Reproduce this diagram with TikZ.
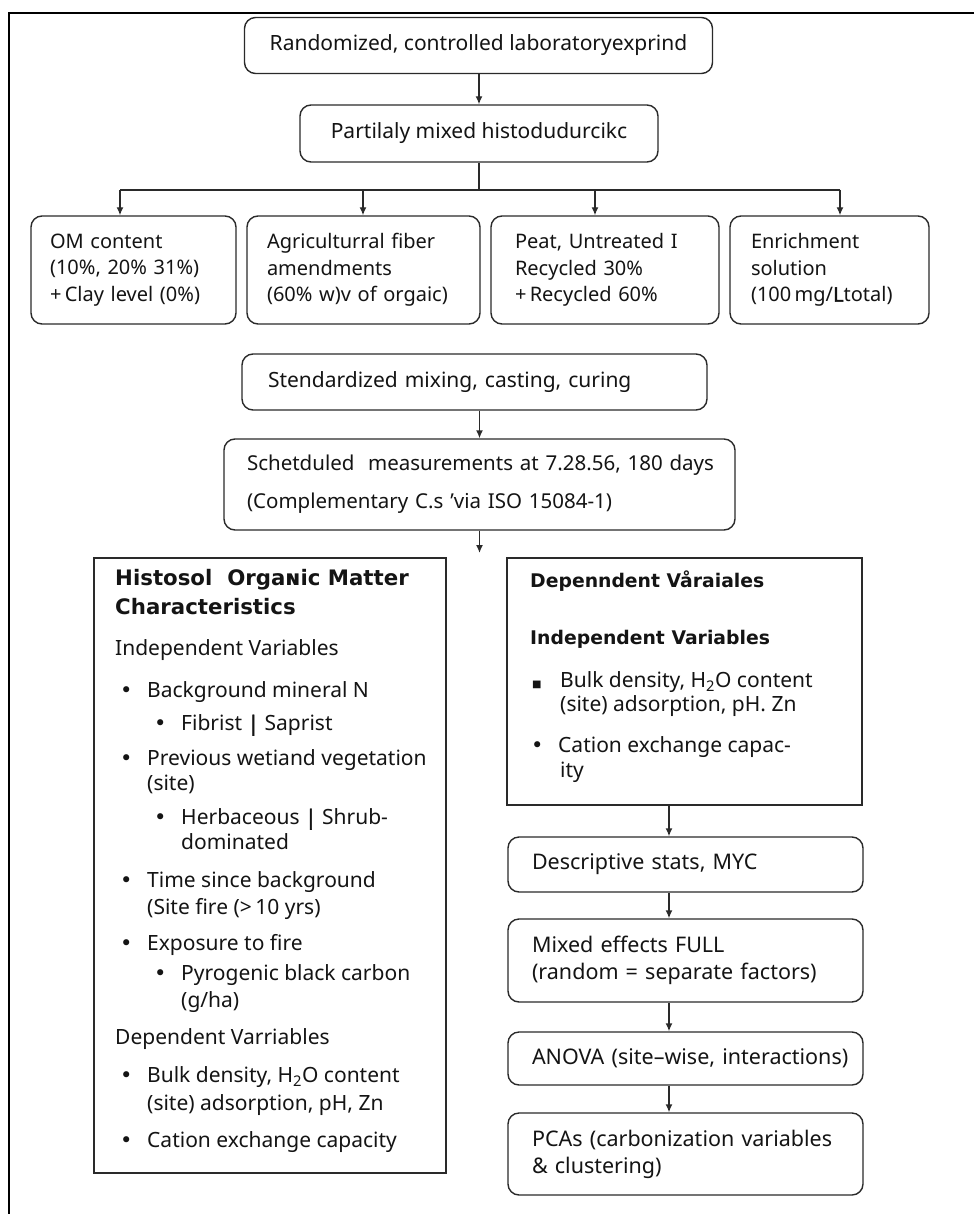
\documentclass[tikz,border=0pt]{standalone}
\usepackage{fontspec}
\setmainfont{Noto Sans}[AutoFakeBold=2.2]
\newfontfamily\symfont{DejaVu Sans}
\newfontfamily\headfont{DejaVu Sans}
\usetikzlibrary{arrows.meta}

\definecolor{ink}{HTML}{141414}
\definecolor{edge}{HTML}{2A2A2A}

% bullets with a fixed hanging width
\newcommand\bul{\makebox[27pt][l]{\symfont •}}
\newcommand\sqbul{\makebox[28pt][l]{\fontsize{10}{10}\symfont ■}}

\tikzset{
  every node/.style={text=ink},
  flowbox/.style={draw=edge, line width=1.4pt, rounded corners=11pt, fill=white, inner sep=0pt},
  panelbox/.style={draw=edge, line width=1.6pt, fill=white, inner sep=0pt},
  arr/.style={draw=edge, line width=1.4pt, -{Latex[length=8pt,width=7pt]}},
  link/.style={draw=edge, line width=1.4pt},
  bigtext/.style={font=\fontsize{21}{26}\selectfont},
  cardtext/.style={font=\fontsize{20}{26.5}\selectfont, align=left},
  schedtext/.style={font=\fontsize{20.5}{38}\selectfont, align=left},
  ptext/.style={font=\fontsize{21}{25}\selectfont, anchor=mid west, inner sep=0pt},
  ptitle/.style={font=\headfont\bfseries\fontsize{21.3}{25}\selectfont, anchor=mid west, inner sep=0pt},
  rtitle/.style={font=\headfont\bfseries\fontsize{18.8}{25}\selectfont, anchor=mid west, inner sep=0pt},
  steptext/.style={font=\fontsize{21.5}{27}\selectfont, align=left},
}

\begin{document}
\begin{tikzpicture}[x=1pt,y=-1pt]
\useasboundingbox (0,0) rectangle (974,1214);
\fill[white] (0,0) rectangle (974,1214);

% page frame (top and left rules)
\draw[line width=2.6pt, black] (974,13) -- (9,13) -- (9,1214);

% ---- upper flow ----
\node[flowbox, bigtext, minimum width=468pt, minimum height=56pt] (start) at (478.5,45.5)
  {Randomized, controlled laboratoryexprind};
\node[flowbox, bigtext, minimum width=358pt, minimum height=57pt] (mix) at (479,133.5)
  {Partilaly mixed histodudurcikc};
\draw[arr] (start.south -| mix.north) -- (mix.north);

% distribution bus
\coordinate (bus) at (479,190);
\coordinate (jA) at (120,190);
\coordinate (jB) at (363,190);
\coordinate (jC) at (595,190);
\coordinate (jD) at (840,190);
\draw[link] (mix.south) -- (bus);
\draw[link] (jA) -- (jD);

% four treatment cards
\node[flowbox, cardtext, minimum width=205pt, minimum height=108pt, text width=167pt] (om) at (133.5,270)
  {OM content\\(10\%, 20\% 31\%)\\+\,Clay level (0\%)};
\node[flowbox, cardtext, minimum width=233pt, minimum height=108pt, text width=193pt] (fib) at (363.5,270)
  {Agriculturral fiber\\amendments\\\mbox{(60\% w)v of orgaic)}};
\node[flowbox, cardtext, minimum width=228pt, minimum height=108pt, text width=180pt] (peat) at (605,270)
  {Peat, Untreated I\\Recycled 30\%\\+\,Recycled 60\%};
\node[flowbox, cardtext, minimum width=199pt, minimum height=108pt, text width=157pt] (enr) at (829.5,270)
  {Enrichment\\solution\\\mbox{(100\,mg/\textbf{L}total)}};
\draw[arr] (jA) -- (jA |- om.north);
\draw[arr] (jB) -- (jB |- fib.north);
\draw[arr] (jC) -- (jC |- peat.north);
\draw[arr] (jD) -- (jD |- enr.north);

% preparation and measurement
\node[flowbox, bigtext, align=left, minimum width=465pt, minimum height=56pt, text width=413pt] (prep) at (474.5,382)
  {Stendardized mixing, casting, curing};
\node[flowbox, schedtext, minimum width=511pt, minimum height=91pt, text width=465pt] (sched) at (479.5,484.5)
  {\mbox{Schetduled\ \ measurements at 7.28.56, 180 days}\\(Complementary C.s 'via ISO 15084-1)};
\draw[arr] (prep.south -| sched.north) -- (sched.north);
\coordinate (split) at (479.5,553);
\draw[arr] (sched.south) -- (split);

% ---- left panel ----
\node[panelbox, minimum width=352pt, minimum height=615pt] (left) at (270,865.5) {};
\node[ptitle] (lt1) at (115,583) {Histosol\ \ Orgaɴic Matter};
\node[ptitle] (lt2) at (115,612) {Characteristics};
\node[ptext] (lh1) at (115,653) {Independent Variables};
\node[ptext] (l1)  at (120,695) {\bul Background mineral N};
\node[ptext] (l2)  at (154,728) {\bul Fibrist {\bfseries|} Saprist};
\node[ptext] (l3)  at (120,763) {\bul Previous wetiand vegetation};
\node[ptext] (l3b) at (147,788) {(site)};
\node[ptext] (l4)  at (154,822) {\bul Herbaceous {\bfseries|} Shrub-};
\node[ptext] (l4b) at (181,847) {dominated};
\node[ptext] (l5)  at (120,885) {\bul Time since background};
\node[ptext] (l5b) at (147,912) {(Site fire (>\,10 yrs)};
\node[ptext] (l6)  at (120,948) {\bul Exposure to fire};
\node[ptext] (l7)  at (154,978) {\bul Pyrogenic black carbon};
\node[ptext] (l7b) at (181,1005) {(g/ha)};
\node[ptext] (lh2) at (115,1042) {Dependent Varriables};
\node[ptext] (l8)  at (120,1080) {\bul Bulk density, H\textsubscript{2}O content};
\node[ptext] (l8b) at (147,1108) {(site) adsorption, pH, Zn};
\node[ptext] (l9)  at (120,1145) {\bul Cation exchange capacity};

% ---- right panel ----
\node[panelbox, minimum width=355pt, minimum height=247pt] (right) at (684.5,681.5) {};
\node[rtitle] (rt1) at (530,585) {Depenndent Våraiales};
\node[rtitle] (rt2) at (530,642) {Independent Variables};
\node[ptext] (r1)  at (532,685) {\sqbul Bulk density, H\textsubscript{2}O content};
\node[ptext] (r1b) at (560,709) {(site) adsorption, pH. Zn};
\node[ptext] (r2)  at (531,750) {\bul Cation exchange capac-};
\node[ptext] (r2b) at (560,775) {ity};

% ---- analysis steps ----
\node[flowbox, steptext, minimum width=355pt, minimum height=55pt, text width=307pt] (desc) at (685.5,864.5)
  {Descriptive stats, MYC};
\node[flowbox, steptext, minimum width=355pt, minimum height=83pt, text width=307pt] (mixed) at (685.5,960.5)
  {Mixed effects FULL\\(random = separate factors)};
\node[flowbox, steptext, minimum width=355pt, minimum height=53pt, text width=307pt] (anova) at (685.5,1058.5)
  {\mbox{ANOVA (site–wise, interactions)}};
\node[flowbox, steptext, minimum width=355pt, minimum height=82pt, text width=307pt] (pca) at (685.5,1154)
  {\mbox{PCAs (carbonization variables}\\\& clustering)};

\coordinate (rcol) at (669,0);
\draw[arr] (right.south -| rcol) -- (desc.north -| rcol);
\draw[arr] (desc.south -| rcol) -- (mixed.north -| rcol);
\draw[arr] (mixed.south -| rcol) -- (anova.north -| rcol);
\draw[arr] (anova.south -| rcol) -- (pca.north -| rcol);
\end{tikzpicture}
\end{document}
